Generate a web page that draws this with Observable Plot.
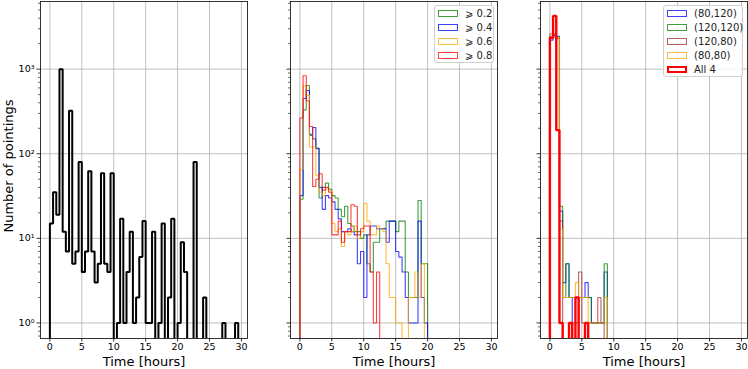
<!DOCTYPE html>
<html><head><meta charset="utf-8">
<script src="https://cdn.jsdelivr.net/npm/d3@7"></script>
<script src="https://cdn.jsdelivr.net/npm/@observablehq/plot@0.6"></script>
<style>
body{margin:0;background:#fff;font-family:"DejaVu Sans",sans-serif;}
#wrap{position:relative;width:748px;height:369px;overflow:hidden;background:#fff}
.panel{position:absolute;top:0}
.legend{position:absolute;background:rgba(255,255,255,0.85);border:1px solid #d0d0d0;border-radius:3px;font-size:10px;color:#222;box-sizing:border-box;padding:1px 4px 0 3px}
.legend .row{display:flex;align-items:center;height:13.8px;white-space:nowrap}
.legend .h{width:20px;height:7px;box-sizing:border-box;margin-right:7px;flex:none}
</style></head><body><div id="wrap"></div><script>
// ---- data ----
const binWidth = 0.5;
const xTicks = [0, 5, 10, 15, 20, 25, 30];
const yTicks = [1, 10, 100, 1000];
const yLabels = ["10⁰", "10¹", "10²", "10³"];
const xLabel = "Time [hours]";
const yLabel = "Number of pointings";

// panel 1: all pointings
const allCounts = [15,35,19,1000,12,7,322,5,7,80, 4,7,62,7,3,5,59,5,4,59, 0,1,17,1,4,12,1,2,6,16, 1,1,12,0,1,15,0,2,17,0, 1,9,4,0,0,80,0,0,2,0, 0,0,0,0,1,0,0,0,1];

// panel 2: thresholds
const thrLabels = ["⩾ 0.2", "⩾ 0.4", "⩾ 0.6", "⩾ 0.8"];
const thrColors = ["green", "blue", "orange", "red"];
const thr02 = [29,330,640,165,150,117,30,40,45,38, 32,30,22,18,24,15,14,12,12,10, 11,5,4,9,9,13,13,16,16,16, 12,16,16,4,2,2,2,28,5,5];
const thr04 = [32,450,560,170,204,115,40,22,32,30, 27,22,17,12,12,13,12,11,5,7, 2,11,14,14,13,13,13,9,16,16, 7,6,4,2,1,1,1,16,2,1];
const thr06 = [65,640,490,120,120,55,35,32,38,36, 15,12,13,8,12,11,12,14,10,12, 26,16,11,11,14,13,12,5,2,2, 1,1,0,0,2,2,4,2,5];
const thr08 = [265,835,420,210,41,50,58,37,40,35, 11,11,16,9,12,12,25,24,11,13, 14,14,4,1,4];

// panel 3: positions
const posLabels = ["(80,120)", "(120,120)", "(120,80)", "(80,80)", "All 4"];
const posColors = ["blue", "green", "brown", "orange", "red"];
const pos80_120  = [2200,2500,2450,21,3,5,2,0,0,2,2,3,2,1,1,1,1,4];
const pos120_120 = [2400,2550,2400,24,2,5,2,2,2,2,2,2,2,1,1,1,1,5];
const pos120_80  = [2600,2600,2300,16,0,0,0,1,1,4,1,1,1,1,1,2,1];
const pos80_80   = [2350,2400,2350,13,2,2,2,2,3,2,2,2,1,1,1,1,1,2];
const posAll4    = [2350,4260,190,1,0,0,1,0,2,0,0,1];

// ---- helpers ----
const FLOOR = 1e-3;
function steps(counts, s) {
  const pts = [{x: 0, y: FLOOR, s}];
  counts.forEach((c, i) => pts.push({x: i * binWidth, y: c > 0 ? c : FLOOR, s}));
  pts.push({x: counts.length * binWidth, y: FLOOR, s});
  return pts;
}
const minorTicks = [];
for (let e = -1; e <= 3; e++) for (let m = 2; m <= 9; m++) {
  const v = m * Math.pow(10, e);
  if (v > 0.66 && v < 6300) minorTicks.push(v);
}
const supFmt = d => yLabels[yTicks.indexOf(d)] ?? "";

function panel({series, left, marginLeft, marginRight, width, showY}) {
  const marks = [
    Plot.gridX(xTicks, {stroke: "#b0b0b0", strokeOpacity: 1, strokeWidth: 0.8}),
    Plot.gridY(yTicks, {stroke: "#b0b0b0", strokeOpacity: 1, strokeWidth: 0.8}),
    ...series.map(({counts, color, width: w, opacity, name}) =>
      Plot.line(steps(counts, name), {x: "x", y: "y", curve: "step-after", stroke: color,
        strokeWidth: w, strokeOpacity: opacity, strokeLinejoin: "miter", clip: true})),
    Plot.frame({stroke: "black", strokeWidth: 0.8}),
    Plot.axisX(xTicks, {tickSize: 3.5, tickPadding: 1.5, fontSize: 9.5, strokeWidth: 0.8, label: null, tickFormat: d => String(d)}),
    Plot.axisY(yTicks, {tickSize: 3.5, tickPadding: 2.5, fontSize: 9.5, strokeWidth: 0.8, label: null, tickFormat: showY ? supFmt : () => ""}),
    Plot.axisY(minorTicks, {tickSize: 2, strokeWidth: 0.6, label: null, tickFormat: () => ""}),
    Plot.text([xLabel], {frameAnchor: "bottom", lineAnchor: "middle", dy: 23.5, fontSize: 13, fill: "black"})
  ];
  if (showY) marks.push(Plot.text([yLabel], {frameAnchor: "left", textAnchor: "middle", lineAnchor: "middle", dx: -32, dy: -4, rotate: -90, fontSize: 13, fill: "black"}));
  const svg = Plot.plot({
    width, height: 369, marginTop: 1, marginBottom: 31, marginLeft, marginRight,
    style: {background: "transparent", fontFamily: "DejaVu Sans", color: "black", overflow: "visible"},
    x: {domain: [-1.47, 30.95], label: null},
    y: {type: "log", domain: [0.655, 6300], label: null},
    marks
  });
  svg.classList.add("panel");
  svg.style.left = left + "px";
  svg.style.position = "absolute";
  return svg;
}

const wrap = document.getElementById("wrap");
wrap.appendChild(panel({left: 0, width: 268, marginLeft: 40, marginRight: 21, showY: true,
  series: [{counts: allCounts, color: "black", width: 2, opacity: 1, name: "all"}]}));
const thrData = [thr02, thr04, thr06, thr08];
wrap.appendChild(panel({left: 268, width: 250, marginLeft: 22, marginRight: 21, showY: false,
  series: thrData.map((c, i) => ({counts: c, color: thrColors[i], width: 1.1, opacity: 0.75, name: thrLabels[i]}))}));
const posData = [pos80_120, pos120_120, pos120_80, pos80_80, posAll4];
wrap.appendChild(panel({left: 518, width: 230, marginLeft: 22, marginRight: 1, showY: false,
  series: posData.map((c, i) => ({counts: c, color: posColors[i], width: i === 4 ? 2.4 : 1.1, opacity: i === 4 ? 1 : 0.75, name: posLabels[i]}))}));

function legend(labels, colors, widths, left, top, w) {
  const div = document.createElement("div");
  div.className = "legend";
  div.style.left = left + "px"; div.style.top = top + "px"; div.style.width = w + "px";
  labels.forEach((l, i) => {
    const row = document.createElement("div"); row.className = "row";
    const h = document.createElement("span"); h.className = "h";
    h.style.border = widths[i] + "px solid " + colors[i];
    h.style.opacity = widths[i] > 1.5 ? 1 : 0.75;
    const t = document.createElement("span"); t.textContent = l;
    row.appendChild(h); row.appendChild(t); div.appendChild(row);
  });
  wrap.appendChild(div);
}
legend(thrLabels, thrColors, [1.2, 1.2, 1.2, 1.2], 434, 5, 60);
legend(posLabels, posColors, [1.2, 1.2, 1.2, 1.2, 2.6], 663, 5, 80);
</script></body></html>
